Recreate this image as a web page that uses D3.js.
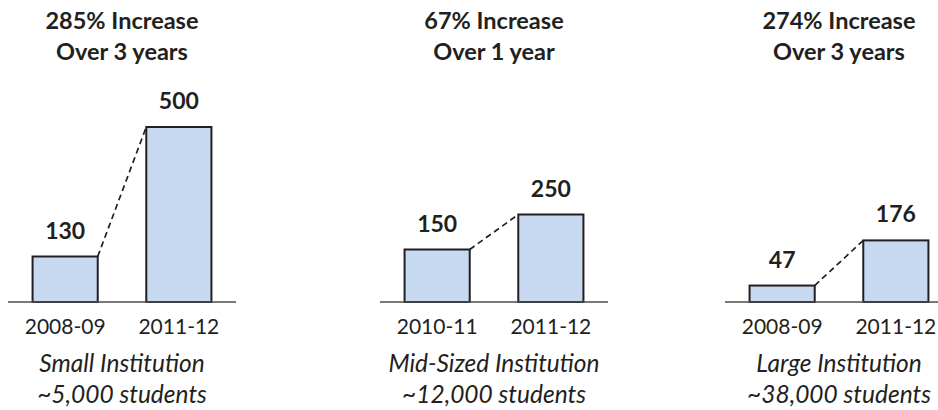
<!DOCTYPE html>
<html>
<head>
<meta charset="utf-8">
<script src="https://cdn.jsdelivr.net/npm/d3@7"></script>
<style>
  html, body { margin: 0; padding: 0; background: #fff; }
  svg { display: block; }
</style>
</head>
<body>
<svg id="chart" width="938" height="410"></svg>
<script>
// ---- Data ----
const titleLine1 = ["285% Increase", "67% Increase", "274% Increase"];
const titleLine2 = ["Over 3 years", "Over 1 year", "Over 3 years"];
const institutions = ["Small Institution", "Mid-Sized Institution", "Large Institution"];
const studentCounts = ["~5,000 students", "~12,000 students", "~38,000 students"];
const yearsBefore = ["2008-09", "2010-11", "2008-09"];
const yearsAfter = ["2011-12", "2011-12", "2011-12"];
const valuesBefore = [130, 150, 47];
const valuesAfter = [500, 250, 176];

// ---- Layout ----
const panelLeft = [8, 380, 725];
const panelWidth = 228;
const baselineY = 302;
const FONT = "Lato, 'Open Sans', sans-serif";

const svg = d3.select("#chart");
const y = d3.scaleLinear().domain([0, 500]).range([baselineY, baselineY - 175]);

panelLeft.forEach((px, i) => {
  const years = [yearsBefore[i], yearsAfter[i]];
  const vals = [valuesBefore[i], valuesAfter[i]];
  const x = d3.scaleBand().domain(years).range([0, panelWidth])
    .paddingInner(0.427).paddingOuter(0.216);
  const g = svg.append("g").attr("transform", `translate(${px},0)`);
  const cx = panelWidth / 2;

  // titles
  g.append("text").attr("x", cx).attr("y", 29).attr("text-anchor", "middle")
    .attr("font-family", FONT).attr("font-weight", "bold").attr("font-size", 23.5)
    .attr("fill", "#231f20").text(titleLine1[i]);
  g.append("text").attr("x", cx).attr("y", 60).attr("text-anchor", "middle")
    .attr("font-family", FONT).attr("font-weight", "bold").attr("font-size", 23.5)
    .attr("fill", "#231f20").text(titleLine2[i]);

  // dashed connector
  g.append("line")
    .attr("x1", x(years[0]) + x.bandwidth()).attr("y1", y(vals[0]))
    .attr("x2", x(years[1])).attr("y2", y(vals[1]))
    .attr("stroke", "#231f20").attr("stroke-width", 1.7)
    .attr("stroke-dasharray", "6,4");

  // bars
  g.selectAll("rect.bar").data(vals).join("rect").attr("class", "bar")
    .attr("x", (d, j) => x(years[j]))
    .attr("y", d => y(d))
    .attr("width", x.bandwidth())
    .attr("height", d => baselineY - y(d))
    .attr("fill", "#c6d9f1").attr("stroke", "#231f20").attr("stroke-width", 2);

  // value labels
  g.selectAll("text.val").data(vals).join("text").attr("class", "val")
    .attr("x", (d, j) => x(years[j]) + x.bandwidth() / 2)
    .attr("y", d => y(d) - 18)
    .attr("text-anchor", "middle")
    .attr("font-family", FONT).attr("font-weight", "bold").attr("font-size", 23)
    .attr("fill", "#231f20").text(d => d);

  // baseline axis
  const axis = g.append("g").attr("transform", `translate(0,${baselineY})`)
    .call(d3.axisBottom(x).tickSize(0).tickPadding(17));
  axis.select(".domain").attr("d", `M0,0H${Math.min(panelWidth, 938 - px)}`)
    .attr("stroke", "#4d4d4d").attr("stroke-width", 1.5);
  axis.selectAll(".tick text").attr("font-family", FONT).attr("font-size", 21)
    .attr("fill", "#231f20").attr("dy", "0.71em");

  // institution labels
  g.append("text").attr("x", cx).attr("y", 372).attr("text-anchor", "middle")
    .attr("font-family", FONT).attr("font-style", "italic").attr("font-size", 24.5)
    .attr("fill", "#231f20").text(institutions[i]);
  g.append("text").attr("x", cx).attr("y", 403).attr("text-anchor", "middle")
    .attr("font-family", FONT).attr("font-style", "italic").attr("font-size", 24.5)
    .attr("fill", "#231f20").text(studentCounts[i]);
});
</script>
</body>
</html>
